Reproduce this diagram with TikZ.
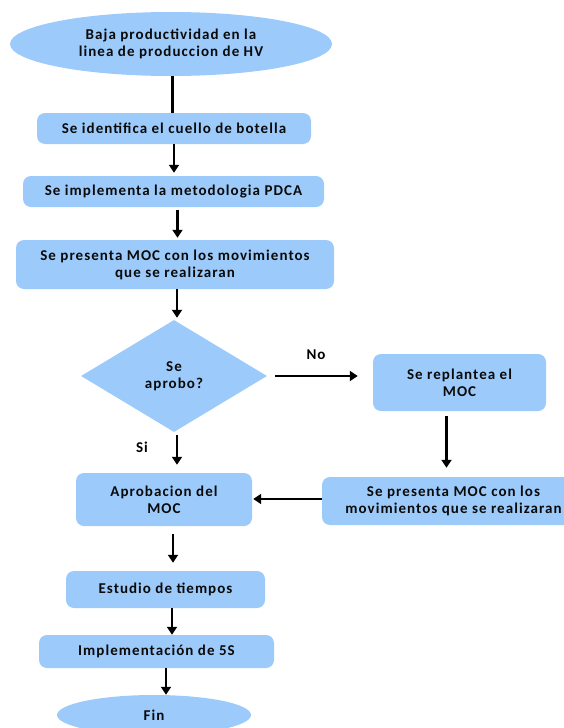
\documentclass[tikz,border=0pt]{standalone}
\usepackage{fontspec}
\setmainfont{Carlito}[LetterSpace=7]
\usetikzlibrary{arrows.meta, shapes.geometric, calc}
\definecolor{flowfill}{HTML}{9CCBFB}
\definecolor{flowtext}{HTML}{0A0A0A}
\newcommand{\procbox}[5]{%
  \node[fill=flowfill, rounded corners=8pt, inner sep=0pt,
        minimum width=#3, minimum height=#4, align=center,
        text=flowtext] (#1) at (#2) {#5};}
\tikzset{
  flowarrow/.style={-{Triangle[length=8pt, width=10pt]}, line width=2.8pt, black},
  endcap/.style={ellipse, fill=flowfill, inner sep=0pt, align=center, text=flowtext},
}

\begin{document}
\begin{tikzpicture}[x=1pt, y=-1pt, font=\bfseries\fontsize{15}{17}\selectfont]
  \clip (0,0) rectangle (564,728);
  \node[endcap, minimum width=322pt, minimum height=64pt] (start) at (171,44)
    {Baja productividad en la\\linea de produccion de HV};
  \procbox{s1}{174,128.5}{274pt}{31pt}{Se identifica el cuello de botella}
  \procbox{s2}{173.5,191.5}{301pt}{31pt}{Se implementa la metodologia PDCA}
  \procbox{s3}{175,264.5}{318pt}{49pt}{Se presenta MOC con los movimientos\\que se realizaran}
  \node[diamond, fill=flowfill, inner sep=0pt, aspect=1.66, minimum width=186pt,
        minimum height=112pt, align=center, text=flowtext] (q) at (174,376) {Se\\aprobo?};
  \procbox{r1}{459.5,382.5}{173pt}{57pt}{Se replantea el\\MOC}
  \procbox{r2}{453.5,501}{263pt}{48pt}{Se presenta MOC con los\\movimientos que se realizaran}
  \procbox{s4}{164,499.5}{176pt}{53pt}{Aprobacion del\\MOC}
  \procbox{s5}{165.5,589.5}{199pt}{37pt}{Estudio de tiempos}
  \procbox{s6}{156.5,651.5}{235pt}{33pt}{Implementación de 5S}
  \node[endcap, minimum width=194pt, minimum height=40pt] (fin) at (154,715) {Fin};
  \node (no) at (316,355) {No};
  \node (si) at (142,447) {Si};

  \draw[line width=3pt] ([xshift=1pt]start.south) -- ([xshift=1pt]start.south |- s1.north);
  \draw[flowarrow, shorten >=3pt] (s1.south) -- (s1.south |- s2.north);
  \draw[flowarrow, shorten <=3pt, shorten >=2pt] ([xshift=4pt]s2.south) -- ([xshift=4pt]s2.south |- s3.north);
  \draw[flowarrow, shorten >=2pt] ([xshift=2pt]s3.south) -- ([xshift=2pt]s3.south |- q.north);
  \draw[flowarrow, shorten <=8pt, shorten >=15pt] (q.east) -- (q.east -| r1.west);
  \draw[flowarrow, shorten <=5pt, shorten >=9pt] ([xshift=-13pt]r1.south) -- ([xshift=-13pt]r1.south |- r2.north);
  \draw[flowarrow, shorten >=1pt] ([yshift=2pt]r2.west) -- ([yshift=2pt]r2.west -| s4.east);
  \draw[flowarrow, shorten <=3pt, shorten >=8pt] ([xshift=3pt]q.south) -- ([xshift=3pt]q.south |- s4.north);
  \draw[flowarrow, shorten <=8pt, shorten >=8pt] ([xshift=9pt]s4.south) -- ([xshift=9pt]s4.south |- s5.north);
  \draw[flowarrow] ([xshift=6.5pt]s5.south) -- ([xshift=6.5pt]s5.south |- s6.north);
  \draw[flowarrow] ([xshift=9.5pt]s6.south) -- ([xshift=9.5pt]s6.south |- fin.north);
\end{tikzpicture}
\end{document}
